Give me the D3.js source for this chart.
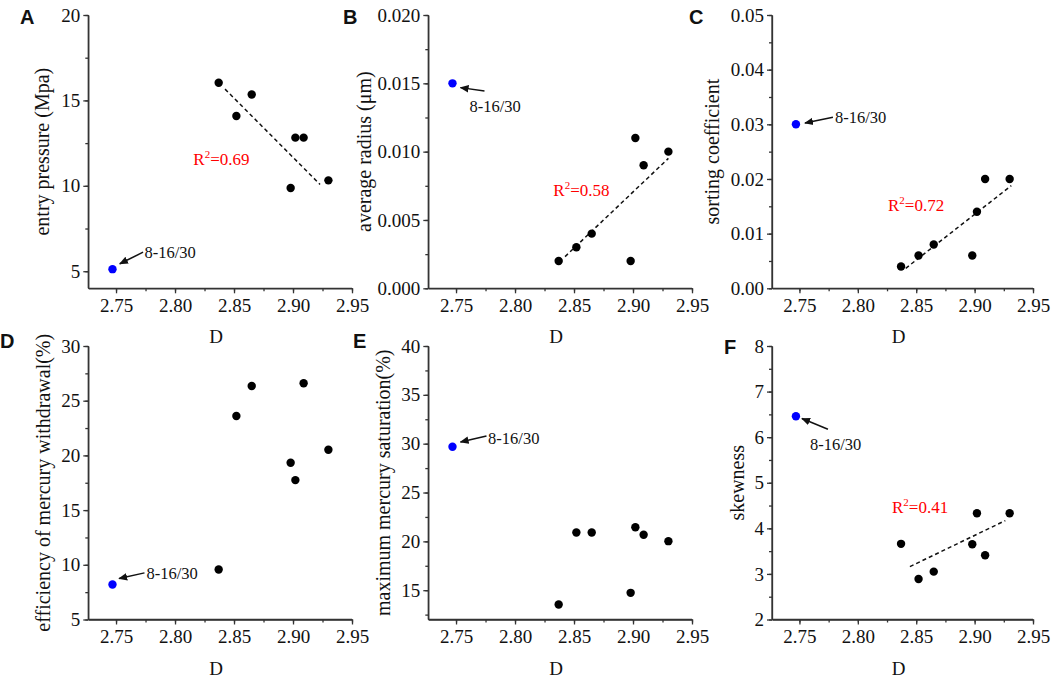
<!DOCTYPE html>
<html>
<head>
<meta charset="utf-8">
<script src="https://cdn.jsdelivr.net/npm/d3@7"></script>
<style>
  body { margin: 0; background: #fff; }
  text { font-family: "Liberation Serif", "Times New Roman", serif; fill: #111; }
  .letter { font-family: "Liberation Sans", Arial, sans-serif; font-weight: bold; font-size: 20px; }
  .axis path, .axis line { stroke: #333; stroke-width: 1.3; }
</style>
</head>
<body>
<script>

// fractal dimension D of the samples (same for every panel)
let dValues = [2.837, 2.852, 2.865, 2.898, 2.902, 2.909, 2.930]
let outlierD = 2.747
let outlierName = "8-16/30"

let entryPressure = [16.03, 14.09, 15.35, 9.87, 12.82, 12.82, 10.32]
let averageRadius = [0.002, 0.003, 0.004, 0.002, 0.011, 0.009, 0.010]
let sortingCoef = [0.004, 0.006, 0.008, 0.006, 0.014, 0.020, 0.020]
let withdrawalEff = [9.57, 23.6, 26.34, 19.33, 17.74, 26.59, 20.52]
let maxSaturation = [13.53, 20.91, 20.91, 14.73, 21.45, 20.67, 20.02]
let skewness = [3.66, 2.89, 3.05, 3.65, 4.33, 3.41, 4.33]

let outlierValues = [5.12, 0.015, 0.030, 8.2, 29.69, 6.46]

// dashed fit lines, end points
let fitA = {x: [2.8424, 2.9229], y: [15.66, 10.08]}
let fitB = {x: [2.8424, 2.930], y: [0.00232, 0.00951]}
let fitC = {x: [2.841, 2.9314], y: [0.00366, 0.01878]}
let fitF = {x: [2.8446, 2.9263], y: [3.16, 4.17]}

let r2Labels = ["0.69", "0.58", "0.72", null, null, "0.41"]
let xTicks = [2.75, 2.80, 2.85, 2.90, 2.95]

var panels = [
  {letter: "A", label: "entry pressure (Mpa)", values: entryPressure, fit: fitA,
   dom: [4, 20], ticks: [5, 10, 15, 20], minor: 2.5, fmt: "d",
   x0: 88.3, x1: 352, top: 15, bottom: 288.3, labelDx: -39, lx: 20, ly: 24,
   r2: [105, 150], note: {tail: [30.6, -17], head: [7.3, -5.4], text: [32, -11]}},
  {letter: "B", label: "average radius (μm)", values: averageRadius, fit: fitB,
   dom: [0, 0.02], ticks: [0, 0.005, 0.01, 0.015, 0.02], minor: 0.0025, fmt: ".3f",
   x0: 428.3, x1: 692, top: 15, bottom: 288.3, labelDx: -57, lx: 343, ly: 24,
   r2: [125, 181], note: {tail: [32, 7.7], head: [8, 4.3], text: [17, 29]}},
  {letter: "C", label: "sorting coefficient", values: sortingCoef, fit: fitC,
   dom: [0, 0.05], ticks: [0, 0.01, 0.02, 0.03, 0.04, 0.05], minor: 0.005, fmt: ".2f",
   x0: 772, x1: 1033, top: 15, bottom: 288.3, labelDx: -53, lx: 689, ly: 24,
   r2: [116, 196], note: {tail: [37, -7], head: [9, -1.3], text: [39, -1]}},
  {letter: "D", label: "efficiency of mercury withdrawal(%)", values: withdrawalEff, fit: null,
   dom: [5, 30], ticks: [5, 10, 15, 20, 25, 30], minor: 2.5, fmt: "d",
   x0: 88.3, x1: 352, top: 346, bottom: 619.5, labelDx: -38, lx: 0, ly: 348,
   r2: null, note: {tail: [32, -11.6], head: [6.6, -6], text: [34, -5]}},
  {letter: "E", label: "maximum mercury saturation(%)", values: maxSaturation, fit: null,
   dom: [12, 40], ticks: [15, 20, 25, 30, 35, 40], minor: 2.5, fmt: "d",
   x0: 428.3, x1: 692, top: 346, bottom: 619.5, labelDx: -38, lx: 353, ly: 348,
   r2: null, note: {tail: [34, -10.7], head: [8, -4.7], text: [35.6, -3]}},
  {letter: "F", label: "skewness", values: skewness, fit: fitF,
   dom: [2, 8], ticks: [2, 3, 4, 5, 6, 7, 8], minor: 0.5, fmt: "d",
   x0: 772, x1: 1033, top: 346, bottom: 619.5, labelDx: -28, lx: 724, ly: 354,
   r2: [120, 167], note: {tail: [32, 13], head: [6, 2.3], text: [14, 34]}}
]

var svg = d3.select("body").append("svg")
    .attr("width", 1052)
    .attr("height", 677)

svg.append("defs").append("marker")
    .attr("id", "arrow")
    .attr("viewBox", "0 0 10 10")
    .attr("refX", 9).attr("refY", 5)
    .attr("markerWidth", 6).attr("markerHeight", 6)
    .attr("markerUnits", "strokeWidth")
    .attr("orient", "auto")
  .append("path")
    .attr("d", "M0,0.8 L10,5 L0,9.2 z")
    .attr("fill", "#111")

panels.forEach(function(p, i) {
  var x = d3.scaleLinear().domain([2.7265, 2.95]).range([p.x0, p.x1])
  var y = d3.scaleLinear().domain(p.dom).range([p.bottom, p.top])

  // minor ticks first so major ones draw on top
  var yMinor = d3.range(Math.ceil(p.dom[0] / p.minor) * p.minor, p.dom[1] + 1e-9, p.minor)
  var xMinor = d3.range(2.725, 2.951, 0.025).filter(function(v) { return v > 2.7265 })

  svg.append("g")
    .attr("class", "axis")
    .attr("transform", "translate(" + p.x0 + ",0)")
    .call(d3.axisLeft(y).tickValues(yMinor).tickSize(3).tickFormat("").tickSizeOuter(0))

  svg.append("g")
    .attr("class", "axis")
    .attr("transform", "translate(0," + p.bottom + ")")
    .call(d3.axisBottom(x).tickValues(xMinor).tickSize(3).tickFormat("").tickSizeOuter(0))

  var yAxis = svg.append("g")
    .attr("class", "axis")
    .attr("transform", "translate(" + p.x0 + ",0)")
    .call(d3.axisLeft(y).tickValues(p.ticks).tickSize(5).tickPadding(3)
      .tickFormat(d3.format(p.fmt)).tickSizeOuter(0))
  yAxis.selectAll("text").attr("font-size", 19).attr("fill", "#111")
    .style("font-family", "Liberation Serif, serif")
  yAxis.select(".domain").remove()

  var xAxis = svg.append("g")
    .attr("class", "axis")
    .attr("transform", "translate(0," + p.bottom + ")")
    .call(d3.axisBottom(x).tickValues(xTicks).tickSize(5).tickPadding(5)
      .tickFormat(d3.format(".2f")).tickSizeOuter(0))
  xAxis.selectAll("text").attr("font-size", 19).attr("fill", "#111")
    .style("font-family", "Liberation Serif, serif")
  xAxis.select(".domain").remove()

  // plain axis lines, no box
  svg.append("line")
    .attr("x1", p.x0).attr("x2", p.x0)
    .attr("y1", y.range()[1]).attr("y2", p.bottom)
    .attr("stroke", "#333").attr("stroke-width", 1.3)
  svg.append("line")
    .attr("x1", p.x0).attr("x2", p.x1)
    .attr("y1", p.bottom).attr("y2", p.bottom)
    .attr("stroke", "#333").attr("stroke-width", 1.3)

  svg.append("text")
    .attr("x", (p.x0 + p.x1) / 2 - 4)
    .attr("y", p.bottom + 55)
    .attr("text-anchor", "middle")
    .attr("font-size", 19)
    .text("D")

  svg.append("text")
    .attr("transform", "translate(" + (p.x0 + p.labelDx) + "," + ((p.top + p.bottom) / 2) + ") rotate(-90)")
    .attr("text-anchor", "middle")
    .attr("font-size", 20)
    .text(p.label)

  svg.append("text")
    .attr("class", "letter")
    .attr("x", p.lx).attr("y", p.ly)
    .text(p.letter)

  if (p.fit) {
    var pts = p.fit.x.map(function(d, k) { return {x: d, y: p.fit.y[k]} })
    svg.append("path")
      .datum(pts)
      .attr("d", d3.line().x(function(d) { return x(d.x) }).y(function(d) { return y(d.y) }))
      .attr("fill", "none")
      .attr("stroke", "#111")
      .attr("stroke-width", 1.5)
      .attr("stroke-dasharray", "4,3")
  }

  var pointData = dValues.map(function(d, k) { return {x: d, y: p.values[k]} })
  svg.selectAll(".dot" + i)
    .data(pointData)
    .enter().append("circle")
    .attr("class", "dot" + i)
    .attr("cx", function(d) { return x(d.x) })
    .attr("cy", function(d) { return y(d.y) })
    .attr("r", 4.2)
    .attr("fill", "#000")

  var bx = x(outlierD), by = y(outlierValues[i])
  svg.append("circle")
    .attr("cx", bx).attr("cy", by)
    .attr("r", 4.2)
    .attr("fill", "#0000ff")

  svg.append("line")
    .attr("x1", bx + p.note.tail[0]).attr("y1", by + p.note.tail[1])
    .attr("x2", bx + p.note.head[0]).attr("y2", by + p.note.head[1])
    .attr("stroke", "#111")
    .attr("stroke-width", 1.5)
    .attr("marker-end", "url(#arrow)")

  svg.append("text")
    .attr("x", bx + p.note.text[0]).attr("y", by + p.note.text[1])
    .attr("font-size", 16.5)
    .text(outlierName)

  if (r2Labels[i]) {
    var t = svg.append("text")
      .attr("x", p.x0 + p.r2[0]).attr("y", p.top + p.r2[1])
      .attr("font-size", 17)
      .style("fill", "#ff0000")
    t.append("tspan").text("R")
    t.append("tspan").attr("dy", -7).attr("font-size", 11).text("2")
    t.append("tspan").attr("dy", 7).text("=" + r2Labels[i])
  }
})

</script>
</body>
</html>
